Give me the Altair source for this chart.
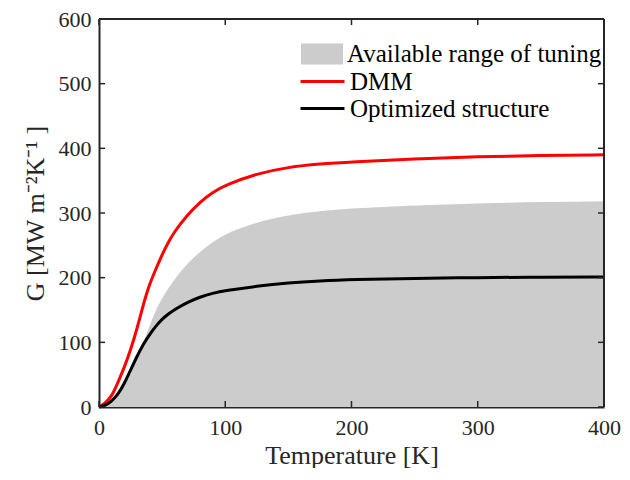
import altair as alt
import pandas as pd

# Temperature grid [K]
T = [0, 5, 10, 15, 20, 25, 30, 35, 40, 45, 50, 55, 60, 70, 80, 90, 100,
     125, 150, 175, 200, 250, 300, 350, 400]
# Upper limit of available tuning range
G_range = [0, 2, 9, 19, 36, 57, 78, 98, 126, 150, 168, 184, 198, 222, 240, 255, 268,
           286, 297, 303, 307, 312, 315, 317, 318]
# DMM
G_dmm = [0, 6, 16, 38, 61, 88, 120, 158, 190, 213, 236, 255, 272, 297, 317, 332, 343,
         361, 371, 376, 379, 384, 387, 389, 390]
# Optimized structure
G_opt = [0, 2, 9, 19, 36, 57, 78, 97, 112, 125, 136, 144, 151, 162, 170, 176, 180,
         187, 192, 195, 197, 199, 200, 201, 201]

x_ticks = [0, 100, 200, 300, 400]
y_ticks = [0, 100, 200, 300, 400, 500, 600]

AREA_NAME = "Available range of tuning"
LINE_NAMES = ["DMM", "Optimized structure"]

df_area = pd.DataFrame({"T": T, "G": G_range, "name": AREA_NAME})
df_lines = pd.concat([
    pd.DataFrame({"T": T, "G": G_dmm, "name": LINE_NAMES[0]}),
    pd.DataFrame({"T": T, "G": G_opt, "name": LINE_NAMES[1]}),
])
df_xt = pd.DataFrame({"T": x_ticks})
df_yt = pd.DataFrame({"G": y_ticks})

W, H = 505, 388
FONT = "Liberation Serif"
INK = "#262626"

xscale = alt.Scale(domain=[0, 400], nice=False)
yscale = alt.Scale(domain=[0, 600], nice=False)

x_main = alt.Axis(values=x_ticks, title="Temperature [K]", format="d",
                  tickSize=0, labelPadding=10, titlePadding=4, labelFlush=False,
                  domainColor=INK, domainWidth=2)
y_main = alt.Axis(values=y_ticks, title="G [MW m⁻²K⁻¹ ]", format="d",
                  tickSize=0, labelPadding=8, titlePadding=10, labelFlush=False,
                  domainColor=INK, domainWidth=2)

X = alt.X("T:Q", scale=xscale, axis=x_main)
Y = alt.Y("G:Q", scale=yscale, axis=y_main)

area = alt.Chart(df_area).mark_area(interpolate="basis").encode(
    x=X, y=Y,
    fill=alt.Fill("name:N", scale=alt.Scale(domain=[AREA_NAME], range=["#cccccc"]),
                  legend=alt.Legend(title=None, orient="none", legendX=202, legendY=14,
                                    symbolType="M-1,-0.5H1V0.5H-1Z", symbolSize=1764,
                                    symbolStrokeWidth=0, symbolOpacity=1,
                                    labelFontSize=25, labelOffset=4, padding=0)),
)

lines = alt.Chart(df_lines).mark_line(interpolate="basis", strokeWidth=3).encode(
    x=X, y=Y,
    stroke=alt.Stroke("name:N", scale=alt.Scale(domain=LINE_NAMES, range=["#ff0000", "#000000"]),
                      legend=alt.Legend(title=None, orient="none", legendX=211, legendY=50,
                                        symbolType="M-2,0H2", symbolSize=484,
                                        symbolStrokeWidth=3, rowPadding=1,
                                        labelFontSize=25, labelOffset=15, padding=0)),
)

tick_style = dict(color=INK, strokeWidth=1.5)
xt_bottom = alt.Chart(df_xt).mark_rule(**tick_style).encode(
    x=X, y=alt.value(H), y2=alt.value(H - 6))
xt_top = alt.Chart(df_xt).mark_rule(**tick_style).encode(
    x=X, y=alt.value(0), y2=alt.value(6))
yt_left = alt.Chart(df_yt).mark_rule(**tick_style).encode(
    y=Y, x=alt.value(0), x2=alt.value(6))
yt_right = alt.Chart(df_yt).mark_rule(**tick_style).encode(
    y=Y, x=alt.value(W), x2=alt.value(W - 6))

frame_style = dict(color=INK, strokeWidth=2)
frame_top = alt.Chart(df_xt).mark_rule(**frame_style).encode(
    x=alt.value(0), x2=alt.value(W), y=alt.value(0))
frame_right = alt.Chart(df_xt).mark_rule(**frame_style).encode(
    x=alt.value(W), y=alt.value(0), y2=alt.value(H))

chart = alt.layer(area, lines, xt_bottom, xt_top, yt_left, yt_right,
                  frame_top, frame_right).properties(
    width=W, height=H, padding={"left": 14, "top": 0, "right": 0, "bottom": 0}
).configure_view(stroke=None).configure_axis(
    labelFont=FONT, labelFontSize=22, labelColor=INK,
    titleFont=FONT, titleFontSize=26, titleColor=INK, titleFontWeight="normal",
    grid=False,
).configure_legend(labelFont=FONT, labelColor="#000000", labelLimit=400)

chart.save("out.html", embed_options={"renderer": "svg", "actions": False})
